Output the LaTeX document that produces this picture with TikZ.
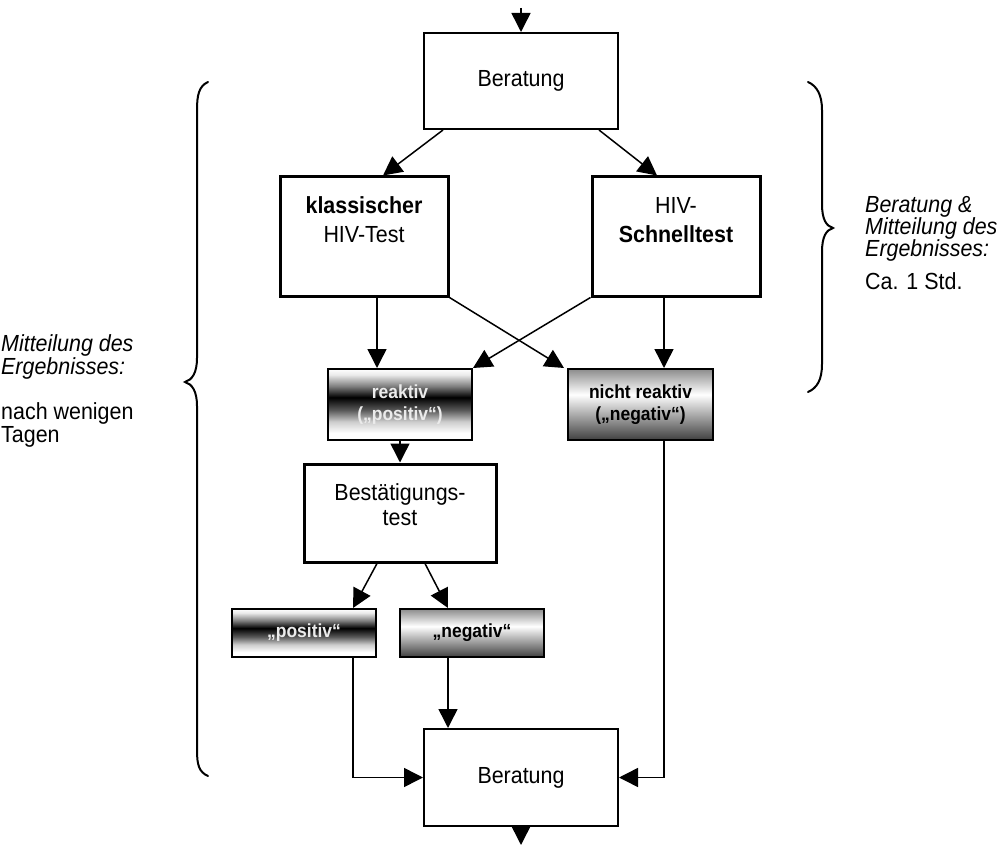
\documentclass[tikz,border=0pt]{standalone}
\usepackage{fontspec}
\setmainfont{Liberation Sans}[FakeStretch=0.92]
\usetikzlibrary{arrows.meta}
\pgfdeclareverticalshading{darkband}{100bp}{color(0bp)=(white); color(25bp)=(white); color(30bp)=(white); color(38bp)=(black!20); color(46bp)=(black!65); color(55bp)=(black); color(63bp)=(black!50); color(71bp)=(black!8); color(75bp)=(white); color(100bp)=(white)}
\pgfdeclareverticalshading{greyband}{100bp}{color(0bp)=(black!75); color(25bp)=(black!75); color(40bp)=(black!40); color(57bp)=(white); color(75bp)=(black!45); color(100bp)=(black!45)}
\begin{document}
\begin{tikzpicture}[x=1pt,y=1pt,
  mainfont/.style={font=\fontsize{23.3pt}{29pt}\selectfont},
  smallfont/.style={font=\fontsize{19pt}{22pt}\selectfont\bfseries},
  plainbox/.style={draw, line width=2pt, fill=white, inner sep=0pt, mainfont},
  thickbox/.style={draw, line width=3pt, fill=white, inner sep=0pt},
  boxtxt/.style={mainfont, align=center, inner sep=0pt},
  darkbox/.style={draw, line width=2pt, shade, shading=darkband, smallfont, align=center, text=white!92!black, inner sep=0pt, minimum width=144pt},
  greybox/.style={draw, line width=2pt, shade, shading=greyband, smallfont, align=center, text=black, inner sep=0pt, minimum width=144pt},
  arr/.style={line width=1.5pt, -{Triangle[length=19pt,width=19pt]}},
  bracestyle/.style={line width=2pt, line cap=round},
  sidetxt/.style={anchor=base west, inner sep=0pt, font=\fontsize{23.3pt}{22pt}\selectfont}
]
\useasboundingbox (0,0) rectangle (999,-845);

% boxes
\node[plainbox, minimum width=194pt, minimum height=96pt] (ber1) at (521,-81) {Beratung};
\node[thickbox, minimum width=168pt, minimum height=119pt,
      label={[boxtxt, yshift=16.5pt]center:{\textbf{klassischer}\\HIV-Test}}] (kl) at (364,-236.5) {};
\node[thickbox, minimum width=168pt, minimum height=119pt,
      label={[boxtxt, yshift=16.5pt]center:{HIV-\\\textbf{Schnelltest}}}] (sch) at (676,-236.5) {};
\node[darkbox, minimum height=71pt] (rea) at (400,-404.5) {reaktiv\\(„positiv“)};
\node[greybox, minimum width=145pt, minimum height=71pt] (nre) at (640.5,-404.5) {nicht reaktiv\\(„negativ“)};
\node[thickbox, minimum width=192pt, minimum height=98pt,
      label={[boxtxt, font=\fontsize{23.3pt}{25pt}\selectfont, yshift=8.3pt]center:{Bestätigungs-\\test}}] (bst) at (400,-513) {};
\node[darkbox, minimum height=48pt] (pos) at (304,-633) {„positiv“};
\node[greybox, minimum height=48pt] (neg) at (472,-633) {„negativ“};
\node[plainbox, minimum width=194pt, minimum height=97pt] (ber2) at (521,-777.5) {Beratung};

% connectors
\coordinate (in) at (521,-8);
\coordinate (out) at (521,-845);
\draw[arr] (in) -- (ber1.north);
\draw[arr] ([xshift=20pt]ber1.south west) -- ([xshift=19pt]kl.north);
\draw[arr] ([xshift=-20pt]ber1.south east) -- ([xshift=-19pt]sch.north);
\draw[arr] ([xshift=13pt]kl.south) -- ([xshift=-23pt]rea.north);
\draw[arr] (kl.south east) -- ([xshift=-3pt]nre.north west);
\draw[arr] (sch.south west) -- (rea.north east);
\draw[arr] ([xshift=-12pt]sch.south) -- ([xshift=23.5pt]nre.north);
\draw[arr] (rea.south) -- (bst.north);
\draw[arr] ([xshift=-23pt]bst.south) -- ([xshift=49pt]pos.north);
\draw[arr] ([xshift=25pt]bst.south) -- ([xshift=-24pt]neg.north);
\draw[arr] ([xshift=49pt]pos.south) |- (ber2.west);
\draw[arr] ([xshift=-24pt]neg.south) -- ([xshift=-24pt]neg.south |- ber2.north);
\draw[arr] ([xshift=23.5pt]nre.south) |- (ber2.east);
\draw[arr] (ber2.south) -- (out);

% braces
\draw[bracestyle] (208,-82) .. controls (199,-86) and (197,-95) .. (197,-110) -- (197,-358)
  .. controls (197,-373) and (192,-380) .. (185,-382) .. controls (192,-384) and (197,-391) .. (197,-406)
  -- (197,-750) .. controls (197,-765) and (199,-772) .. (208,-776);
\draw[bracestyle] (808,-82) .. controls (817,-86) and (822,-95) .. (822,-110) -- (822,-204)
  .. controls (822,-219) and (826,-226) .. (833,-228) .. controls (826,-230) and (822,-237) .. (822,-252)
  -- (822,-364) .. controls (822,-380) and (817,-388) .. (808,-392);

% side texts
\node[sidetxt] (r1) at (865,-213) {\itshape Beratung \&};
\node[sidetxt] (r2) at (865,-235) {\itshape Mitteilung des};
\node[sidetxt] (r3) at (865,-257) {\itshape Ergebnisses:};
\node[sidetxt] (r4) at (865,-289) {Ca. 1 Std.};
\node[sidetxt] (l1) at (1,-351) {\itshape Mitteilung des};
\node[sidetxt] (l2) at (1,-374) {\itshape Ergebnisses:};
\node[sidetxt] (l3) at (1,-419) {nach wenigen};
\node[sidetxt] (l4) at (1,-442) {Tagen};
\end{tikzpicture}
\end{document}
